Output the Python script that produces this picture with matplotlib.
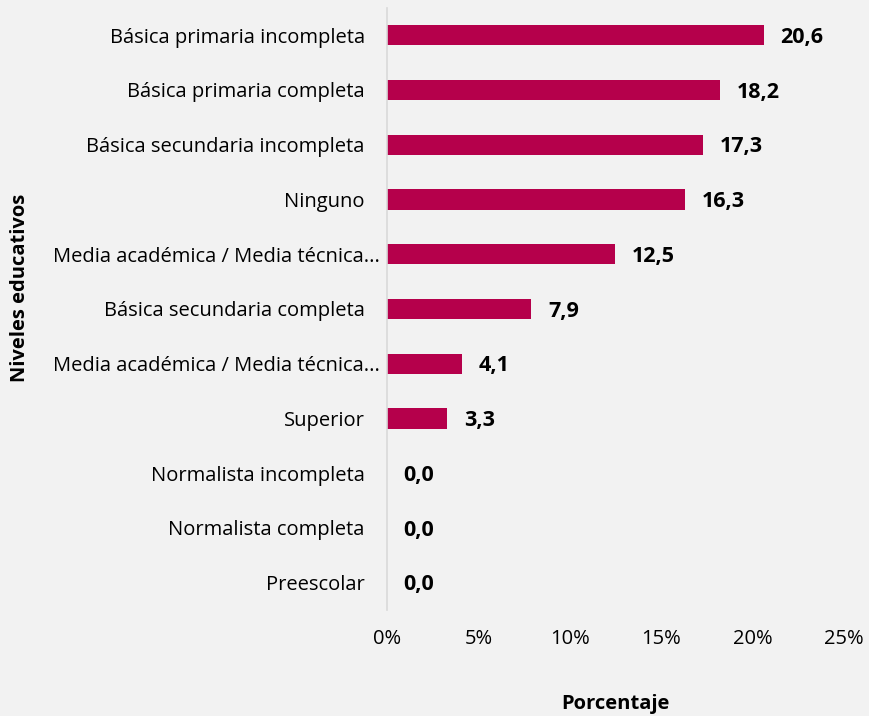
import matplotlib.pyplot as plt
from matplotlib.ticker import FuncFormatter
from matplotlib.transforms import ScaledTranslation

plt.rcParams['font.family'] = ['Open Sans', 'DejaVu Sans']

# Data (top to bottom as shown)
niveles = [
    "Básica primaria incompleta",
    "Básica primaria completa",
    "Básica secundaria incompleta",
    "Ninguno",
    "Media académica / Media técnica...",
    "Básica secundaria completa",
    "Media académica / Media técnica...",
    "Superior",
    "Normalista incompleta",
    "Normalista completa",
    "Preescolar",
]
porcentaje = [20.6, 18.2, 17.3, 16.3, 12.5, 7.9, 4.1, 3.3, 0.0, 0.0, 0.0]
xticks = [0, 5, 10, 15, 20, 25]

bg = '#F2F2F2'
bar_color = '#B5004B'

fig = plt.figure(figsize=(8.69, 7.16), dpi=100, facecolor=bg)
ax = fig.add_axes([0.4453, 0.148, 0.5259, 0.841], facecolor=bg)

pos = list(range(len(niveles)))
ax.barh(pos, porcentaje, height=0.37, color=bar_color)
ax.set_ylim(len(niveles) - 0.5, -0.5)
ax.set_xlim(0, 25)

for p, v in zip(pos, porcentaje):
    ax.annotate(f"{v:.1f}".replace('.', ','), xy=(v, p), xytext=(12, -1.5),
                textcoords='offset points', ha='left', va='center',
                fontsize=15.5, fontweight='bold', color='black')

ax.set_yticks(pos)
ax.set_yticklabels(niveles, fontsize=14.5)
ax.set_xticks(xticks)
ax.xaxis.set_major_formatter(FuncFormatter(lambda x, _: f"{x:.0f}%"))
ax.tick_params(axis='x', length=0, pad=14, labelsize=14.5)
ax.tick_params(axis='y', length=0, pad=16)

# the truncated labels spill a bit closer to the axis, as in the original
for lbl in ax.get_yticklabels():
    if lbl.get_text().endswith('...'):
        lbl.set_transform(lbl.get_transform() +
                          ScaledTranslation(15 / 100, 0, fig.dpi_scale_trans))

for s in ['top', 'right', 'bottom']:
    ax.spines[s].set_visible(False)
ax.spines['left'].set_color('#D9D9D9')
ax.spines['left'].set_linewidth(1.2)

fig.text(0.708, 0.017, "Porcentaje", ha='center', va='center',
         fontsize=14.5, fontweight='bold')
fig.text(0.023, 0.598, "Niveles educativos", ha='center', va='center',
         rotation=90, fontsize=14.5, fontweight='bold')

fig.savefig('out.png', dpi=100, facecolor=bg)
